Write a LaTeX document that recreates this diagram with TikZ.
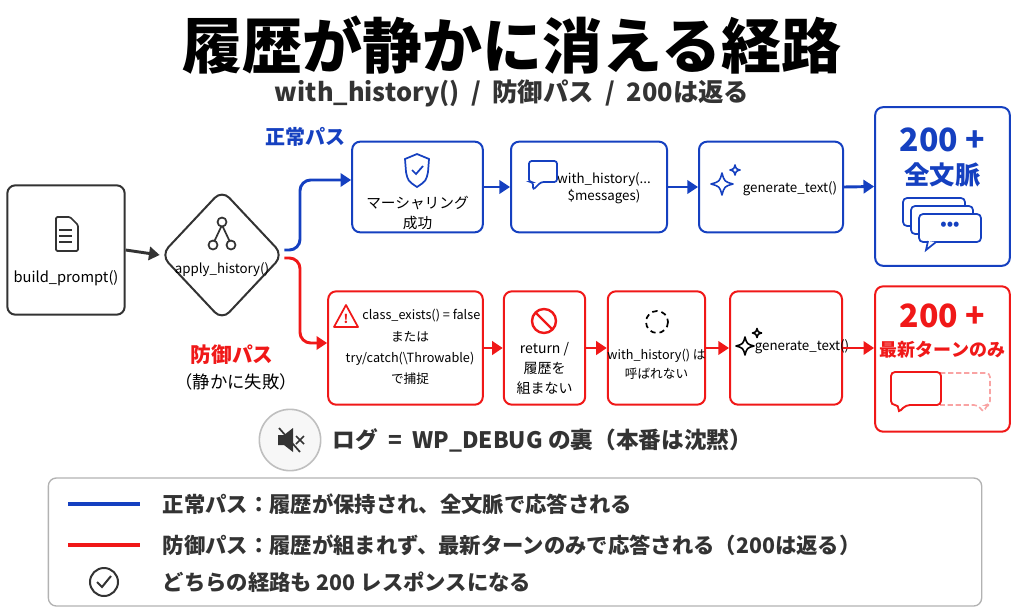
\documentclass[tikz,border=0pt]{standalone}
\usepackage{fontspec}
\setmainfont{Noto Sans CJK JP}
\usetikzlibrary{shapes.geometric,arrows.meta}
\definecolor{bl}{HTML}{1540C0}
\definecolor{rd}{HTML}{F01818}
\definecolor{dk}{HTML}{333333}
\newcommand{\mysparkle}[4]{\draw[#1,line width=1.2pt,line join=round] (#2,#3-#4) .. controls (#2+0.22*#4,#3-0.22*#4) .. (#2+#4,#3) .. controls (#2+0.22*#4,#3+0.22*#4) .. (#2,#3+#4) .. controls (#2-0.22*#4,#3+0.22*#4) .. (#2-#4,#3) .. controls (#2-0.22*#4,#3-0.22*#4) .. cycle;}
\begin{document}
\begin{tikzpicture}[x=0.75pt,y=-0.75pt,
 box/.style={draw=#1,line width=1.5pt,rounded corners=6pt,fill=white},
 lbl/.style={font=\fontsize{10}{13}\selectfont,align=center,text=black},
 arr/.style={line width=2.2pt,draw=#1,-{Triangle[length=8pt,width=10pt]}}]
\useasboundingbox (0,0) rectangle (1024,614);
\node[font=\fontsize{45}{50}\selectfont\bfseries] (title) at (512,45) {履歴が静かに消える経路};
\node[font=\fontsize{19}{22}\selectfont\bfseries,text=dk] (sub) at (512,93) {with\_history() \ / \ 防御パス \ / \ 200は返る};
\node[font=\fontsize{15}{18}\selectfont\bfseries,text=bl] (nlab) at (305,137) {正常パス};
% build_prompt
\node[box=dk,minimum width=88pt,minimum height=97pt] (bp) at (66,250) {};
\node[lbl,font=\fontsize{11}{13}\selectfont] (bpt) at (66,278) {build\_prompt()};
\draw[dk,line width=1.3pt,rounded corners=1pt] (bp.center)++(-10,-33) -- ++(14,0) -- ++(8,8) -- ++(0,26) -- ++(-22,0) -- cycle;
\foreach \y in {-20,-14,-8}{\draw[dk,line width=1pt] (59,250+\y) -- (72,250+\y);}
% diamond
\node[diamond,draw=dk,line width=1.5pt,rounded corners=8pt,minimum width=92pt,minimum height=98pt,inner sep=0pt] (dm) at (222,255) {};
\node[lbl] (dmt) at (222,270) {apply\_history()};
\draw[dk,line width=1.3pt] (222,225) -- (214,242) (222,225) -- (230,242);
\draw[dk,line width=1.3pt,fill=white] (222,222) circle (4.5) (213,245) circle (4.5) (231,245) circle (4.5);
\draw[arr=dk] (bp.east) -- (dm.west);
% blue row
\node[box=bl,minimum width=98pt,minimum height=68pt] (b1) at (417.5,187) {};
\node[lbl,font=\fontsize{11}{15}\selectfont] at (417.5,213) {マーシャリング\\成功};
\draw[bl,line width=1.3pt,fill=white] (417,154) -- (429,159) -- (428,172) .. controls (426,181) .. (417,187) .. controls (408,181) .. (406,172) -- (405,159) -- cycle;
\draw[bl,line width=1.3pt] (412,170) -- (416,174) -- (423,166);
\node[box=bl,minimum width=117pt,minimum height=68pt] (b2) at (589,187) {};
\node[lbl] at (604,188) {with\_history(...\\\$messages)};
\draw[bl,line width=1.3pt,rounded corners=2pt] (529,161) -- (557,161) -- (557,182) -- (541,182) -- (533,190) -- (533,182) -- (529,182) -- cycle;
\node[box=bl,minimum width=108pt,minimum height=68pt] (b3) at (771,187) {};
\node[lbl] at (790,189) {generate\_text()};
\mysparkle{bl}{722}{184}{11}
\mysparkle{bl}{735}{170}{5}
\node[box=bl,minimum width=101pt,minimum height=119pt] (b4) at (942.5,186.5) {};
\node[font=\fontsize{24}{26}\selectfont\bfseries,text=bl] at (942.5,140) {200 +};
\node[font=\fontsize{19}{21}\selectfont\bfseries,text=bl] at (942.5,175) {全文脈};
\foreach \dx/\dy in {0/0,8/8,16/16}{\draw[bl,line width=1.3pt,fill=white,rounded corners=3pt] (903+\dx,198+\dy) rectangle (965+\dx,226+\dy);}
\draw[bl,line width=1.3pt,fill=white] (928,241) -- (926,250) -- (936,242);
\node[text=bl,font=\fontsize{12}{12}\selectfont\bfseries] at (950,226) {•••};
\draw[arr=bl] (b1.east) -- (b2.west);
\draw[arr=bl] (b2.east) -- (b3.west);
\draw[arr=bl] (b3.east) -- (b4.west);
\draw[arr=bl,rounded corners=8pt] (dm.east)++(0,-5) -- (300,250) -- (300,180) -- (b1.west|-0,180);
% red row
\node[box=rd,minimum width=116pt,minimum height=85pt] (r1) at (405.5,348) {};
\node[lbl,font=\fontsize{9.5}{16}\selectfont] at (410,347) {\ \ \ \ \ \ \ \ class\_exists() = false\\または\\try/catch(\textbackslash Throwable)\\で捕捉};
\draw[rd,line width=1.3pt,line join=round] (346,305) -- (358,327) -- (334,327) -- cycle;
\node[text=rd,font=\fontsize{9}{9}\selectfont\bfseries] at (346,319) {!};
\node[box=rd,minimum width=61pt,minimum height=85pt] (r2) at (544.5,348) {};
\draw[rd,line width=1.8pt] (544,321) circle (12) (536,313) -- (552,329);
\node[lbl,font=\fontsize{10.5}{15}\selectfont] at (544.5,369) {return /\\履歴を\\組まない};
\node[box=rd,minimum width=73pt,minimum height=85pt] (r3) at (656.5,348) {};
\draw[black,line width=1.3pt,dash pattern=on 4pt off 3pt] (657,322) circle (11);
\node[lbl,font=\fontsize{9.5}{14}\selectfont] at (656.5,364) {with\_history() は\\呼ばれない};
\node[box=rd,minimum width=84pt,minimum height=85pt] (r4) at (786,348) {};
\node[lbl] at (802,347) {generate\_text()};
\mysparkle{black}{745}{346}{9}
\mysparkle{black}{757}{333}{4.5}
\node[box=rd,minimum width=101pt,minimum height=109pt] (r5) at (942.5,359) {};
\node[font=\fontsize{24}{26}\selectfont\bfseries,text=rd] at (942.5,316) {200 +};
\node[font=\fontsize{13.5}{15}\selectfont\bfseries,text=rd] at (942.5,350) {最新ターンのみ};
\draw[rd!40,line width=1.2pt,dash pattern=on 4pt off 2pt,rounded corners=3pt] (940,373) -- (990,373) -- (990,405) -- (986,405) -- (984,413) -- (978,405) -- (940,405);
\draw[rd,line width=1.4pt,fill=white,rounded corners=3pt] (891,372) -- (941,372) -- (941,405) -- (906,405) -- (898,413) -- (899,405) -- (891,405) -- cycle;
\draw[arr=rd] (r1.east) -- (r2.west);
\draw[arr=rd] (r2.east) -- (r3.west);
\draw[arr=rd] (r3.east) -- (r4.west);
\draw[arr=rd] (r4.east) -- (r5.west|-0,348);
\draw[arr=rd,rounded corners=8pt] (dm.east)++(0,3) -- (300,258) -- (300,343) -- (r1.west|-0,343);
\node[font=\fontsize{15.5}{18}\selectfont\bfseries,text=rd] (rlab) at (232,355) {防御パス};
\node[font=\fontsize{13}{15}\selectfont] (rlab2) at (236,382) {（静かに失敗）};
% mute
\node[circle,draw=black!25,line width=1.2pt,minimum size=46pt,fill=black!3] (mute) at (290,440) {};
\fill[dk] (278,435) rectangle (284,445) (284,435) -- (293,428) -- (293,452) -- (284,445) -- cycle;
\draw[dk,line width=1.3pt] (279,428) -- (300,452);
\draw[dk,line width=1.2pt] (296,436) -- (304,444) (304,436) -- (296,444);
\node[anchor=west,font=\fontsize{17}{20}\selectfont\bfseries,text=dk] (log) at (328,440) {ログ \ = \ WP\_DEBUG の裏（本番は沈黙）};
% legend
\node[draw=black!30,line width=1pt,rounded corners=6pt,minimum width=700pt,minimum height=96pt] (leg) at (515,542) {};
\draw[bl,line width=2.5pt] (68,504) -- (140,504);
\draw[rd,line width=2.5pt] (68,545) -- (140,545);
\draw[dk,line width=1.5pt] (104,582) circle (14);
\draw[dk,line width=1.5pt] (97,582) -- (102,587) -- (111,576);
\node[anchor=west,font=\fontsize{16}{19}\selectfont\bfseries,text=dk] at (158,504) {正常パス：履歴が保持され、全文脈で応答される};
\node[anchor=west,font=\fontsize{16}{19}\selectfont\bfseries,text=dk] at (158,545) {防御パス：履歴が組まれず、最新ターンのみで応答される（200は返る）};
\node[anchor=west,font=\fontsize{16}{19}\selectfont\bfseries,text=dk] at (158,582) {どちらの経路も 200 レスポンスになる};
\end{tikzpicture}
\end{document}
